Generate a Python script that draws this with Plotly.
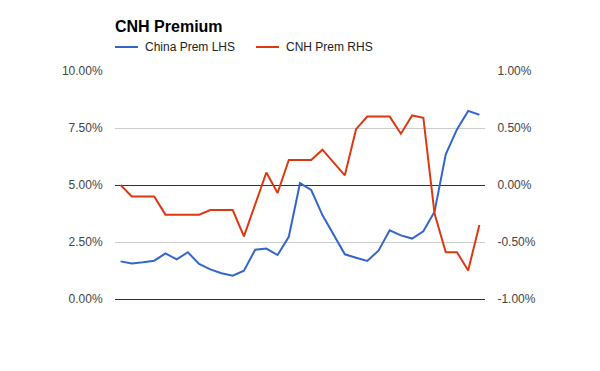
import plotly.graph_objects as go

periods = list(range(33))
china_prem_lhs = [1.65, 1.56, 1.61, 1.68, 2.00, 1.74, 2.05, 1.54, 1.30, 1.13, 1.02, 1.24,
                  2.16, 2.21, 1.93, 2.73, 5.08, 4.78, 3.68, 2.81, 1.96, 1.81, 1.67, 2.12,
                  3.01, 2.79, 2.65, 2.97, 3.83, 6.35, 7.44, 8.25, 8.08]
cnh_prem_rhs = [0.00, -0.10, -0.10, -0.10, -0.26, -0.26, -0.26, -0.26, -0.22, -0.22, -0.22, -0.45,
                -0.17, 0.11, -0.07, 0.22, 0.22, 0.22, 0.31, 0.20, 0.085, 0.49, 0.60, 0.60,
                0.60, 0.45, 0.61, 0.59, -0.25, -0.59, -0.59, -0.75, -0.35]
left_ticks = [0, 2.5, 5, 7.5, 10]
right_ticks = [-1, -0.5, 0, 0.5, 1]
series_names = ["China Prem LHS", "CNH Prem RHS"]
colors = ["#3366cc", "#dc3912"]

FONT = "Liberation Sans, Arial, sans-serif"

fig = go.Figure()
fig.add_trace(go.Scatter(x=periods, y=china_prem_lhs, mode="lines", name=series_names[0],
                         line=dict(color=colors[0], width=2), yaxis="y", hoverinfo="skip"))
fig.add_trace(go.Scatter(x=periods, y=cnh_prem_rhs, mode="lines", name=series_names[1],
                         line=dict(color=colors[1], width=2), yaxis="y2", hoverinfo="skip"))

fig.update_layout(
    width=600, height=371,
    margin=dict(l=115, r=115, t=71, b=72),
    paper_bgcolor="white", plot_bgcolor="white",
    showlegend=False,
    font=dict(family=FONT, size=12, color="#444"),
    xaxis=dict(range=[-0.5, 32.5], showticklabels=False, showgrid=False, zeroline=False,
               showline=True, linecolor="#333", linewidth=1),
    yaxis=dict(range=[0, 10], tickvals=left_ticks,
               ticktext=[f"{v:.2f}%" for v in left_ticks],
               showgrid=True, gridcolor="#cccccc", gridwidth=1, zeroline=False,
               ticks="outside", ticklen=9, tickcolor="rgba(0,0,0,0)"),
    yaxis2=dict(range=[-1, 1], tickvals=right_ticks, overlaying="y", side="right",
                ticktext=[f"{v:.2f}%" for v in right_ticks],
                showgrid=False, zeroline=True, zerolinecolor="#333", zerolinewidth=1,
                ticks="outside", ticklen=9, tickcolor="rgba(0,0,0,0)"),
)

# title
fig.add_annotation(text="<b>CNH Premium</b>", xref="paper", yref="paper", x=0, y=1,
                   xanchor="left", yanchor="middle", yshift=45, xshift=-2, showarrow=False,
                   font=dict(family=FONT, size=16, color="#000"))

# custom legend
leg_x = [0, 141]
leg_y = (371 - 72 - 47) / 228
for i, name in enumerate(series_names):
    x0 = 115 + leg_x[i]
    fig.add_shape(type="line", xref="paper", yref="paper",
                  x0=(x0 - 115) / 370, x1=(x0 + 23 - 115) / 370,
                  y0=leg_y, y1=leg_y,
                  line=dict(color=colors[i], width=2))
    fig.add_annotation(text=name, xref="paper", yref="paper",
                       x=(x0 + 28 - 115) / 370, y=leg_y,
                       xanchor="left", yanchor="middle", showarrow=False,
                       font=dict(family=FONT, size=12, color="#222"))

fig.write_html("out.html", config={"displayModeBar": False},
               post_script="document.body.style.margin='0';document.body.style.padding='0';")
